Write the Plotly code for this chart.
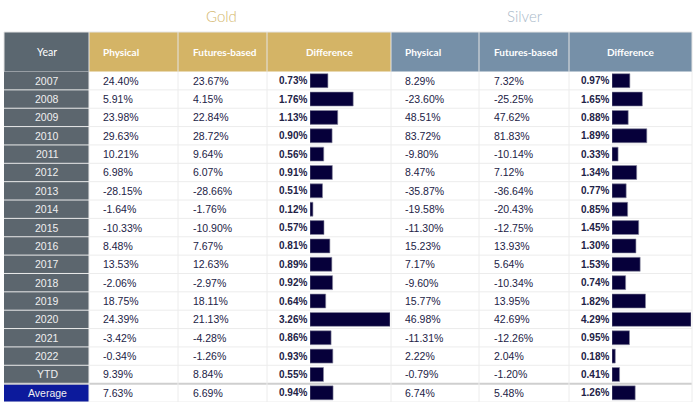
import plotly.graph_objects as go

W, H = 698, 406

# table data
years = ["2007", "2008", "2009", "2010", "2011", "2012", "2013", "2014", "2015",
         "2016", "2017", "2018", "2019", "2020", "2021", "2022", "YTD", "Average"]

gold_physical = [24.40, 5.91, 23.98, 29.63, 10.21, 6.98, -28.15, -1.64, -10.33,
                 8.48, 13.53, -2.06, 18.75, 24.39, -3.42, -0.34, 9.39, 7.63]
gold_futures = [23.67, 4.15, 22.84, 28.72, 9.64, 6.07, -28.66, -1.76, -10.90,
                7.67, 12.63, -2.97, 18.11, 21.13, -4.28, -1.26, 8.84, 6.69]
gold_diff = [0.73, 1.76, 1.13, 0.90, 0.56, 0.91, 0.51, 0.12, 0.57,
             0.81, 0.89, 0.92, 0.64, 3.26, 0.86, 0.93, 0.55, 0.94]

silver_physical = [8.29, -23.60, 48.51, 83.72, -9.80, 8.47, -35.87, -19.58, -11.30,
                   15.23, 7.17, -9.60, 15.77, 46.98, -11.31, 2.22, -0.79, 6.74]
silver_futures = [7.32, -25.25, 47.62, 81.83, -10.14, 7.12, -36.64, -20.43, -12.75,
                  13.93, 5.64, -10.34, 13.95, 42.69, -12.26, 2.04, -1.20, 5.48]
silver_diff = [0.97, 1.65, 0.88, 1.89, 0.33, 1.34, 0.77, 0.85, 1.45,
               1.30, 1.53, 0.74, 1.82, 4.29, 0.95, 0.18, 0.41, 1.26]

headers = ["Year", "Physical", "Futures-based", "Difference",
           "Physical", "Futures-based", "Difference"]

# column edges in pixels
cols = [4, 89, 178, 267, 391, 479, 569, 692]
HEAD_TOP, HEAD_BOT, BODY_BOT = 32, 71.5, 402

YEAR_BG = "#5c666e"
GOLD = "#d4b466"
SILVER = "#7690a8"
AVG_BG = "#0c1a9c"
BAR = "#06003a"
TXT = "#222246"
GRID = "#ececec"


def px(x):
    return x / W


def py(y):
    return 1 - y / H


fig = go.Figure()

# data bars in the two difference columns
fig.add_trace(go.Bar(
    x=gold_diff, y=years, orientation="h", xaxis="x2", yaxis="y",
    marker=dict(color=BAR, line=dict(color="#8a8aa0", width=0.6)),
    hoverinfo="skip", showlegend=False))
fig.add_trace(go.Bar(
    x=silver_diff, y=years, orientation="h", xaxis="x3", yaxis="y",
    marker=dict(color=BAR, line=dict(color="#8a8aa0", width=0.6)),
    hoverinfo="skip", showlegend=False))

shapes = []
annotations = []

# header cells
shapes.append(dict(type="rect", xref="paper", yref="paper", layer="below",
                   x0=px(cols[0]), x1=px(cols[1]), y0=py(HEAD_BOT), y1=py(HEAD_TOP),
                   fillcolor="#5b6770", line_width=0))
shapes.append(dict(type="rect", xref="paper", yref="paper", layer="below",
                   x0=px(cols[1]), x1=px(cols[4]), y0=py(HEAD_BOT), y1=py(HEAD_TOP),
                   fillcolor=GOLD, line_width=0))
shapes.append(dict(type="rect", xref="paper", yref="paper", layer="below",
                   x0=px(cols[4]), x1=px(cols[7]), y0=py(HEAD_BOT), y1=py(HEAD_TOP),
                   fillcolor=SILVER, line_width=0))
for c in cols:
    shapes.append(dict(type="line", xref="paper", yref="paper",
                       x0=px(c), x1=px(c), y0=py(HEAD_BOT), y1=py(HEAD_TOP),
                       line=dict(color="#e4e4e4", width=1)))
shapes.append(dict(type="line", xref="paper", yref="paper",
                   x0=px(cols[0]), x1=px(cols[-1]), y0=py(HEAD_TOP), y1=py(HEAD_TOP),
                   line=dict(color="#e4e4e4", width=1)))

# year column body
n = len(years)
shapes.append(dict(type="rect", xref="paper", yref="y", layer="below",
                   x0=px(cols[0]), x1=px(cols[1]), y0=-0.5, y1=n - 1.5,
                   fillcolor=YEAR_BG, line_width=0))
shapes.append(dict(type="rect", xref="paper", yref="y", layer="below",
                   x0=px(cols[0]), x1=px(cols[1]), y0=n - 1.5, y1=n - 0.5,
                   fillcolor=AVG_BG, line_width=0))

# row separators
for i in range(1, n):
    shapes.append(dict(type="line", xref="paper", yref="y", layer="below",
                       x0=px(cols[0]), x1=px(cols[-1]), y0=i - 0.5, y1=i - 0.5,
                       line=dict(color=GRID if i < n - 1 else "#cfcfcf",
                                 width=1 if i < n - 1 else 2)))
shapes.append(dict(type="line", xref="paper", yref="y", layer="below",
                   x0=px(cols[0]), x1=px(cols[-1]), y0=n - 0.5, y1=n - 0.5,
                   line=dict(color=GRID, width=1)))
for c in cols[1:]:
    shapes.append(dict(type="line", xref="paper", yref="y", layer="below",
                       x0=px(c), x1=px(c), y0=-0.5, y1=n - 0.5,
                       line=dict(color=GRID, width=1)))

# titles
annotations.append(dict(text="Gold", xref="paper", yref="paper", x=px(222), y=py(16),
                        xanchor="center", yanchor="middle", showarrow=False,
                        font=dict(family="Lato", size=15, color="#d4b86e", weight=300)))
annotations.append(dict(text="Silver", xref="paper", yref="paper", x=px(525), y=py(16),
                        xanchor="center", yanchor="middle", showarrow=False,
                        font=dict(family="Lato", size=15, color="#a9b9c9", weight=300)))

# header labels
head_font = dict(family="Lato", size=10, color="white", weight="bold")
head_x = [(47, "center"), (101, "left"), (191, "left"), (329, "center"),
          (403, "left"), (492, "left"), (630, "center")]
for label, (hx, anchor) in zip(headers, head_x):
    annotations.append(dict(text=label, xref="paper", yref="paper",
                            x=px(hx), y=py((HEAD_TOP + HEAD_BOT) / 2),
                            xanchor=anchor, yanchor="middle", showarrow=False,
                            font=dict(head_font, weight="normal", size=10.5)
                            if label == "Year" else head_font))

body_font = dict(family="Liberation Sans, Arial", size=10.5, color=TXT)
bold_font = dict(family="Liberation Sans, Arial", size=10, color=TXT, weight="bold")


def pct(v):
    return f"{v:.2f}%"


for i, yr in enumerate(years):
    annotations.append(dict(text=yr, xref="paper", yref="y", x=px(47), y=i,
                            xanchor="center", yanchor="middle", showarrow=False,
                            font=dict(family="Liberation Sans, Arial", size=10.5,
                                      color="#f0f0f0")))
    cells = [(gold_physical[i], 101, "left", body_font),
             (gold_futures[i], 191, "left", body_font),
             (gold_diff[i], 308.5, "right", bold_font),
             (silver_physical[i], 403, "left", body_font),
             (silver_futures[i], 492, "left", body_font),
             (silver_diff[i], 610.5, "right", bold_font)]
    for v, cx, anchor, f in cells:
        annotations.append(dict(text=pct(v), xref="paper", yref="y", x=px(cx), y=i,
                                xanchor=anchor, yanchor="middle", showarrow=False,
                                font=f))

fig.update_layout(
    width=W, height=H, autosize=False,
    margin=dict(l=0, r=0, t=0, b=0),
    paper_bgcolor="white", plot_bgcolor="rgba(0,0,0,0)",
    bargap=0.24,
    xaxis=dict(visible=False, range=[0, 1], domain=[0, 1], fixedrange=True),
    xaxis2=dict(visible=False, range=[0, max(gold_diff)], domain=[px(310), px(390)],
                anchor="y", fixedrange=True),
    xaxis3=dict(visible=False, range=[0, max(silver_diff)], domain=[px(612), px(691)],
                anchor="y", fixedrange=True),
    yaxis=dict(visible=False, type="category", categoryorder="array", categoryarray=years,
               range=[n - 0.5, -0.5], domain=[py(BODY_BOT), py(HEAD_BOT)], fixedrange=True),
    shapes=shapes,
    annotations=annotations,
    showlegend=False,
)

fig.write_html("out.html", config={"displayModeBar": False},
               post_script="document.body.style.margin='0';")
